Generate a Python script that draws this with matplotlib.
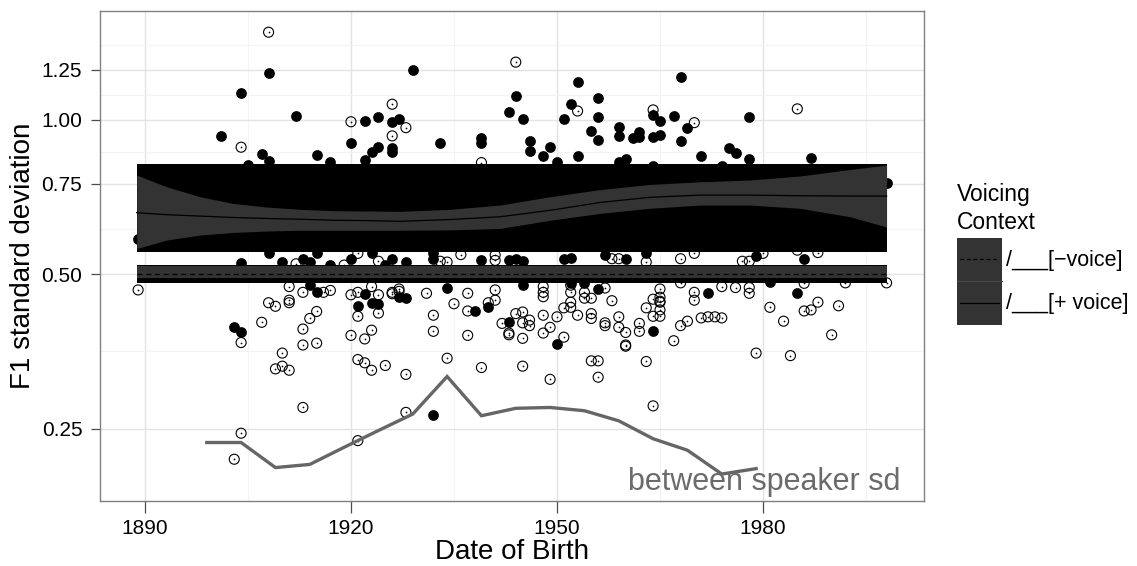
import numpy as np
import matplotlib.pyplot as plt
from matplotlib.patches import Rectangle
from matplotlib.lines import Line2D

plt.rcParams['font.family'] = ['Liberation Sans', 'DejaVu Sans']

# filled points: /___[+ voice]
voiced_year = [1908, 1904, 1912, 1901, 1907, 1905, 1908, 1915, 1917, 1922, 1924, 1926, 1920, 1923,
               1924, 1926, 1926, 1922, 1927, 1889, 1929, 1953, 1968, 1956, 1944, 1943, 1945, 1952,
               1951, 1956, 1933, 1939, 1939, 1946, 1946, 1949, 1948, 1950, 1953, 1955, 1956, 1959,
               1959, 1961, 1962, 1962, 1964, 1965, 1964, 1965, 1967, 1969, 1968, 1959, 1960, 1971,
               1975, 1976, 1978, 1978, 1987, 1974, 1964, 1998,
               1904, 1908, 1910, 1913, 1914, 1915, 1917, 1920, 1923, 1925, 1928, 1932, 1932, 1939,
               1943, 1944, 1945, 1951, 1952, 1957, 1960, 1979, 1986, 1926, 1963,
               1914, 1915, 1903, 1904, 1922, 1923, 1924, 1921, 1927, 1928, 1932, 1934, 1938, 1940,
               1945, 1943, 1952, 1956, 1950, 1964, 1972, 1985, 1981, 1954]
voiced_sd = [1.231, 1.126, 1.017, 0.931, 0.858, 0.818, 0.831, 0.854, 0.829, 0.996, 1.012, 0.991, 0.900, 0.866,
             0.886, 0.880, 0.866, 0.834, 1.003, 0.585, 1.250, 1.184, 1.214, 1.104, 1.112, 1.035, 1.005, 1.072,
             1.003, 1.014, 0.902, 0.920, 0.902, 0.910, 0.870, 0.884, 0.850, 0.829, 0.851, 0.952, 0.915, 0.969,
             0.930, 0.920, 0.948, 0.927, 1.022, 0.996, 0.927, 0.935, 1.015, 0.963, 0.909, 0.829, 0.837, 0.851,
             0.880, 0.860, 1.014, 0.838, 0.844, 0.814, 0.814, 0.754,
             0.526, 0.549, 0.528, 0.536, 0.528, 0.549, 0.521, 0.536, 0.549, 0.521, 0.528, 0.536, 0.549, 0.532,
             0.532, 0.536, 0.530, 0.536, 0.538, 0.545, 0.536, 0.543, 0.536, 0.536, 0.549,
             0.477, 0.461, 0.395, 0.385, 0.458, 0.440, 0.437, 0.434, 0.452, 0.449, 0.266, 0.470, 0.423, 0.431,
             0.477, 0.404, 0.480, 0.468, 0.366, 0.387, 0.459, 0.459, 0.482, 0.480]

# open points: /___[- voice]
voiceless_year = [1908, 1904, 1920, 1926, 1926, 1928, 1939, 1944, 1953, 1964, 1970, 1985,
                  1912, 1919, 1921, 1924, 1933, 1934, 1936, 1941, 1941, 1958, 1959, 1963, 1968, 1970,
                  1977, 1978, 1980, 1985, 1988,
                  1889, 1911, 1913, 1916, 1917, 1908, 1909, 1911, 1911, 1915, 1914, 1907, 1913, 1904,
                  1913, 1915, 1920, 1924, 1926, 1921, 1924, 1920, 1923, 1922, 1921, 1923, 1910, 1909,
                  1910, 1911, 1913, 1904, 1903, 1921, 1928, 1921, 1922, 1923, 1925, 1928, 1932, 1932,
                  1934, 1931, 1927, 1937, 1941, 1948, 1948, 1948, 1952, 1952, 1954, 1954, 1957, 1955,
                  1958, 1935, 1937, 1941, 1940, 1937, 1942, 1944, 1945, 1945, 1946, 1946, 1943, 1943,
                  1945, 1948, 1948, 1949, 1950, 1951, 1951, 1953, 1955, 1955, 1957, 1959, 1959, 1957,
                  1962, 1962, 1960, 1963, 1964, 1939, 1945, 1949, 1955, 1956, 1956, 1963, 1964, 1960,
                  1960, 1967, 1968, 1969, 1971, 1972, 1973, 1974, 1970, 1970, 1974, 1976, 1978, 1978,
                  1981, 1983, 1979, 1984, 1986, 1987, 1988, 1990, 1991, 1998, 1992, 1986, 1965, 1965,
                  1952, 1952, 1965, 1965, 1965, 1964, 1965, 1926, 1927, 1968]
voiceless_sd = [1.481, 0.884, 0.991, 1.072, 0.930, 0.965, 0.825, 1.295, 1.040, 1.045, 0.987, 1.050,
                0.524, 0.521, 0.549, 0.530, 0.530, 0.528, 0.546, 0.545, 0.532, 0.536, 0.536, 0.528, 0.536, 0.549,
                0.530, 0.530, 0.549, 0.557, 0.551,
                0.466, 0.473, 0.461, 0.461, 0.465, 0.440, 0.433, 0.445, 0.440, 0.423, 0.410, 0.403, 0.391, 0.368,
                0.364, 0.367, 0.456, 0.456, 0.458, 0.414, 0.420, 0.380, 0.389, 0.374, 0.461, 0.473, 0.351, 0.327,
                0.331, 0.325, 0.275, 0.245, 0.218, 0.237, 0.269, 0.341, 0.336, 0.325, 0.332, 0.319, 0.416, 0.387,
                0.343, 0.459, 0.463, 0.459, 0.466, 0.473, 0.461, 0.452, 0.476, 0.461, 0.461, 0.449, 0.470, 0.449,
                0.444, 0.438, 0.424, 0.445, 0.440, 0.380, 0.401, 0.419, 0.422, 0.402, 0.407, 0.397, 0.384, 0.381,
                0.375, 0.416, 0.384, 0.394, 0.413, 0.430, 0.377, 0.416, 0.419, 0.410, 0.397, 0.413, 0.394, 0.402,
                0.401, 0.387, 0.385, 0.430, 0.414, 0.329, 0.331, 0.312, 0.339, 0.339, 0.315, 0.338, 0.277, 0.362,
                0.364, 0.371, 0.397, 0.405, 0.411, 0.413, 0.413, 0.411, 0.461, 0.445, 0.473, 0.471, 0.471, 0.459,
                0.431, 0.405, 0.351, 0.347, 0.424, 0.426, 0.441, 0.381, 0.434, 0.481, 0.481, 0.480, 0.441, 0.426,
                0.441, 0.431, 0.468, 0.451, 0.443, 0.447, 0.414, 0.461, 0.468, 0.481]

# smoother for [+ voice] (solid) with its ribbon
smooth_year = [1888.8, 1893.2, 1898.0, 1902.8, 1907.7, 1912.6, 1917.4, 1922.3, 1927.1, 1934.4,
               1941.7, 1949.0, 1956.3, 1963.5, 1970.8, 1978.1, 1985.4, 1992.7, 1998.0]
smooth_fit = [0.659, 0.653, 0.649, 0.645, 0.642, 0.640, 0.637, 0.636, 0.634, 0.639,
              0.647, 0.666, 0.690, 0.706, 0.713, 0.713, 0.711, 0.710, 0.710]
smooth_hi = [0.780, 0.740, 0.708, 0.687, 0.676, 0.669, 0.665, 0.664, 0.663, 0.669,
             0.682, 0.708, 0.731, 0.748, 0.757, 0.763, 0.777, 0.800, 0.816]
smooth_lo = [0.561, 0.583, 0.596, 0.603, 0.607, 0.609, 0.609, 0.609, 0.609, 0.610,
             0.614, 0.637, 0.657, 0.672, 0.682, 0.682, 0.672, 0.647, 0.618]
box_plus = [0.552, 0.820]

# smoother for [- voice] (dashed)
flat_year = [1888.8, 1998.0]
flat_fit = [0.500, 0.500]
flat_hi = [0.519, 0.519]
flat_lo = [0.491, 0.491]
box_minus = [0.481, 0.521]

# between speaker sd
between_year = [1899, 1904, 1909, 1914, 1919, 1924, 1929, 1934, 1939, 1944, 1949, 1954, 1959, 1964, 1969, 1974, 1979]
between_sd = [0.235, 0.235, 0.210, 0.213, 0.230, 0.248, 0.267, 0.316, 0.265, 0.274, 0.275, 0.271, 0.259, 0.239,
              0.227, 0.204, 0.209]

W, H = 1137, 566
fig = plt.figure(figsize=(W / 100, H / 100), dpi=100)
ax = fig.add_axes([100 / W, 1 - 500.7 / H, 824 / W, 490 / H])
ax.set_yscale('log')
ax.set_xlim(1883.45, 2003.45)
ax.set_ylim(0.181, 1.631)

ax.set_xticks([1890, 1920, 1950, 1980])
ax.set_xticks([1905, 1935, 1965, 1995], minor=True)
ax.set_yticks([0.25, 0.5, 0.75, 1.0, 1.25])
ax.set_yticklabels(['0.25', '0.50', '0.75', '1.00', '1.25'])
ax.set_yticks([0.354, 0.612, 0.866, 1.118, 1.398], minor=True)
ax.yaxis.set_minor_formatter(plt.NullFormatter())
ax.grid(True, which='major', color='#e3e3e3', lw=1.0)
ax.grid(True, which='minor', color='#f3f3f3', lw=0.8)
ax.set_axisbelow(True)
ax.tick_params(which='minor', length=0)
ax.tick_params(axis='x', which='major', length=8.5, width=0.9, color='#4d4d4d', pad=4.5, labelsize=15)
ax.tick_params(axis='y', which='major', length=6.7, width=0.9, color='#4d4d4d', pad=6, labelsize=15)
for s in ax.spines.values():
    s.set_color('#808080')
    s.set_linewidth(1.0)

ax.set_xlabel('Date of Birth', fontsize=20, labelpad=1)
ax.set_ylabel('F1 standard deviation', fontsize=20, labelpad=4)

# points
ax.scatter(voiced_year, voiced_sd, s=60, c='black', lw=0, zorder=2)
ax.scatter(voiceless_year, voiceless_sd, s=52, facecolors='none', edgecolors='black', lw=0.8, zorder=2)
ax.scatter(voiceless_year, voiceless_sd, s=1.5, c='black', lw=0, zorder=2)

# smoother boxes and ribbons
ax.fill_between([smooth_year[0], smooth_year[-1]], box_plus[0], box_plus[1], color='black', lw=0, zorder=3)
ax.fill_between(smooth_year, smooth_lo, smooth_hi, color='#333333', lw=0, zorder=3)
ax.plot(smooth_year, smooth_fit, color='black', lw=0.9, zorder=4)

ax.fill_between(flat_year, box_minus[0], box_minus[1], color='black', lw=0, zorder=3)
ax.fill_between(flat_year, flat_lo, flat_hi, color='#333333', lw=0, zorder=3)
ax.plot(flat_year, flat_fit, color='black', lw=0.9, ls=(0, (4, 3)), zorder=4)

ax.plot(between_year, between_sd, color='#666666', lw=2.4, zorder=5, solid_joinstyle='miter')
ax.text(2000, 0.1895, 'between speaker sd', color='#6b6b6b', fontsize=22, ha='right', va='baseline', zorder=5)

# legend
def fx(x):
    return x / W

def fy(y):
    return 1 - y / H

fig.text(fx(957), fy(201), 'Voicing', fontsize=16.5, va='baseline', ha='left')
fig.text(fx(957), fy(229), 'Context', fontsize=16.5, va='baseline', ha='left')
for top, bot, style, label in [(237.7, 281, (0, (3, 2.2)), '/___[\u2212voice]'),
                               (281, 324.5, '-', '/___[+ voice]')]:
    fig.add_artist(Rectangle((fx(957.3), fy(bot)), fx(1001.7) - fx(957.3), fy(top) - fy(bot),
                             transform=fig.transFigure, facecolor='#333333', edgecolor='none'))
    yc = (top + bot) / 2
    fig.add_artist(Line2D([fx(960), fx(999)], [fy(yc), fy(yc)], transform=fig.transFigure,
                          color='black', lw=0.9, ls=style))
    fig.text(fx(1006), fy(yc + 1), label, fontsize=15.5, va='center', ha='left')
fig.add_artist(Line2D([fx(957.3), fx(1001.7)], [fy(281), fy(281)], transform=fig.transFigure,
                      color='#4a4a4a', lw=0.8))

fig.savefig('out.png', dpi=100)
